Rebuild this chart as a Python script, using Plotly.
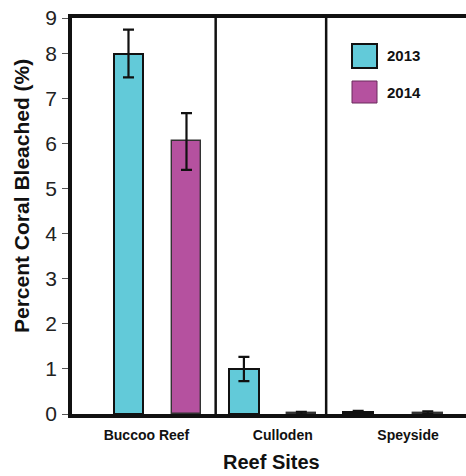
import plotly.graph_objects as go

# Percent of coral bleached per reef site and survey year
sites = ["Buccoo Reef", "Culloden", "Speyside"]
years = ["2013", "2014"]
bleached_2013 = [8.0, 1.0, 0.04]
bleached_2014 = [6.05, 0.02, 0.03]
err_2013 = [0.53, 0.27, 0.03]
err_2014 = [0.63, 0.03, 0.03]
y_ticks = [0, 1, 2, 3, 4, 5, 6, 7, 8]

colors = {"2013": "#62CAD9", "2014": "#B5519F"}
outline = {"2013": ("#111111", 2), "2014": ("#333333", 1.4)}

# bar slots along the x axis (one unit = one bar pitch)
slot_2013 = [0.0, 1.99, 3.96]
slot_2014 = [1.0, 2.98, 5.16]
label_pos = [0.31, 2.66, 4.82]
separators = [1.503, 3.408]
x_range = [-0.974, 5.819]
y_top = 8.79

FONT = "Liberation Sans, Arial, sans-serif"

fig = go.Figure()
for yr, xs, vals, errs in [("2013", slot_2013, bleached_2013, err_2013),
                           ("2014", slot_2014, bleached_2014, err_2014)]:
    fig.add_trace(go.Bar(
        x=xs, y=vals, name=yr, width=0.51,
        marker=dict(color=colors[yr], line=dict(color=outline[yr][0], width=outline[yr][1])),
        error_y=dict(type="data", array=errs, visible=True, color="#111111",
                     thickness=2.2, width=5.5),
        showlegend=False,
    ))

shapes = []
for sx in separators:
    shapes.append(dict(type="line", xref="x", yref="paper", x0=sx, x1=sx, y0=0, y1=1,
                       line=dict(color="#111111", width=2.5)))

# legend boxes drawn in paper space
L, T, W, H = 72, 18, 394, 396
def px(x):
    return (x - L) / W
def py(y):
    return (T + H - y) / H

annotations = []
legend_rows = [("2013", 44, 68, "#111111", 2), ("2014", 81, 103, "#6a2a5c", 1)]
for yr, ytop, ybot, lc, lw in legend_rows:
    shapes.append(dict(type="rect", xref="paper", yref="paper",
                       x0=px(352), x1=px(377), y0=py(ybot), y1=py(ytop),
                       fillcolor=colors[yr], line=dict(color=lc, width=lw)))
    annotations.append(dict(text="<b>%s</b>" % yr, xref="paper", yref="paper",
                            x=px(385), y=py((ytop + ybot) / 2), xanchor="left",
                            yanchor="middle", showarrow=False,
                            font=dict(family=FONT, size=15, color="#111111")))

annotations.append(dict(text="<b>Percent Coral Bleached (%)</b>", xref="paper", yref="paper",
                        x=px(21), y=py(196), textangle=-90, showarrow=False,
                        xanchor="center", yanchor="middle",
                        font=dict(family=FONT, size=21, color="#111111")))
annotations.append(dict(text="<b>Reef Sites</b>", xref="paper", yref="paper",
                        x=px(271), y=py(462), showarrow=False,
                        xanchor="center", yanchor="middle",
                        font=dict(family=FONT, size=20, color="#111111")))

fig.update_layout(
    width=466, height=476,
    margin=dict(l=L, r=0, t=T, b=476 - T - H, pad=0),
    plot_bgcolor="white", paper_bgcolor="white",
    shapes=shapes, annotations=annotations,
    bargap=0,
    xaxis=dict(range=x_range, showgrid=False, zeroline=False,
               showline=True, linecolor="#111111", linewidth=3.5, mirror=True,
               tickmode="array", tickvals=label_pos,
               ticktext=["<b>%s</b>" % s for s in sites],
               ticks="", ticklabelstandoff=5,
               tickfont=dict(family=FONT, size=14, color="#111111")),
    yaxis=dict(range=[0, y_top], showgrid=False, zeroline=False,
               showline=True, linecolor="#111111", linewidth=3.5,
               tickmode="array", tickvals=y_ticks + [y_top],
               ticktext=[str(v) for v in y_ticks] + ["9"],
               ticks="outside", ticklen=6, tickwidth=1, tickcolor="#555555",
               ticklabelstandoff=1,
               tickfont=dict(family=FONT, size=21, color="#222222")),
)

fig.write_html("out.html")
